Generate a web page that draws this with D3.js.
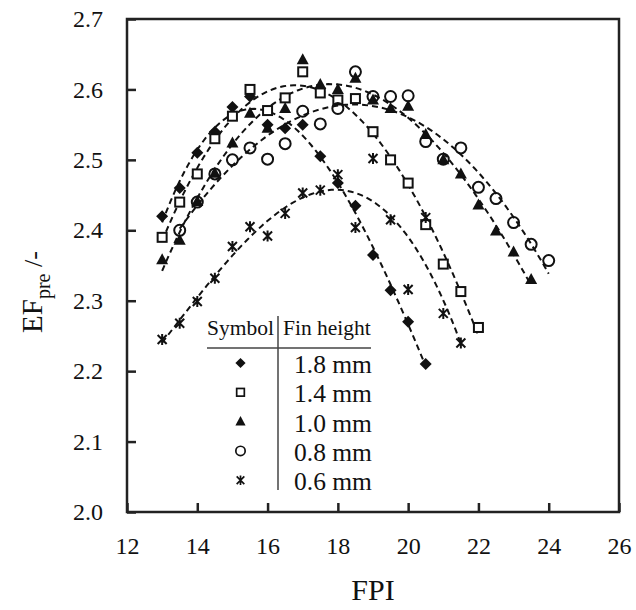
<!DOCTYPE html>
<html>
<head>
<meta charset="utf-8">
<script src="https://cdn.jsdelivr.net/npm/d3@7"></script>
<style>
  body { margin: 0; background: #fff; }
  text { font-family: "Liberation Serif", "Times New Roman", serif; fill: #111; }
</style>
</head>
<body>
<div id="chart"></div>
<script>
// data: FPI (x) and EF_pre (y) for each fin height
var fpi18 = [13, 13.5, 14, 14.5, 15, 15.5, 16, 16.5, 17, 17.5, 18, 18.5, 19, 19.5, 20, 20.5];
var ef18  = [2.42, 2.46, 2.51, 2.54, 2.575, 2.59, 2.55, 2.545, 2.55, 2.505, 2.467, 2.435, 2.365, 2.315, 2.27, 2.21];

var fpi14 = [13, 13.5, 14, 14.5, 15, 15.5, 16, 16.5, 17, 17.5, 18, 18.5, 19, 19.5, 20, 20.5, 21, 21.5, 22];
var ef14  = [2.39, 2.44, 2.48, 2.53, 2.562, 2.6, 2.57, 2.588, 2.625, 2.595, 2.585, 2.587, 2.54, 2.5, 2.467, 2.408, 2.352, 2.313, 2.262];

var fpi10 = [13, 13.5, 14, 14.5, 15, 15.5, 16, 16.5, 17, 17.5, 18, 18.5, 19, 19.5, 20, 20.5, 21, 21.5, 22, 22.5, 23, 23.5];
var ef10  = [2.358, 2.386, 2.441, 2.481, 2.524, 2.566, 2.545, 2.573, 2.642, 2.607, 2.6, 2.616, 2.585, 2.573, 2.576, 2.536, 2.5, 2.48, 2.436, 2.399, 2.369, 2.33];

var fpi08 = [13.5, 14, 14.5, 15, 15.5, 16, 16.5, 17, 17.5, 18, 18.5, 19, 19.5, 20, 20.5, 21, 21.5, 22, 22.5, 23, 23.5, 24];
var ef08  = [2.4, 2.44, 2.48, 2.5, 2.517, 2.501, 2.523, 2.569, 2.551, 2.573, 2.625, 2.59, 2.59, 2.591, 2.526, 2.501, 2.517, 2.461, 2.445, 2.411, 2.38, 2.357];

var fpi06 = [13, 13.5, 14, 14.5, 15, 15.5, 16, 16.5, 17, 17.5, 18, 18.5, 19, 19.5, 20, 20.5, 21, 21.5];
var ef06  = [2.245, 2.268, 2.299, 2.332, 2.377, 2.405, 2.392, 2.424, 2.453, 2.457, 2.479, 2.404, 2.502, 2.415, 2.316, 2.418, 2.282, 2.24];

var finLabels = ["1.8 mm", "1.4 mm", "1.0 mm", "0.8 mm", "0.6 mm"];
var markerTypes = ["diamond", "square", "triangle", "circle", "star"];
var xTicks = [12, 14, 16, 18, 20, 22, 24, 26];
var yTicks = [2.0, 2.1, 2.2, 2.3, 2.4, 2.5, 2.6, 2.7];

var seriesList = [
    { x: fpi18, y: ef18 },
    { x: fpi14, y: ef14 },
    { x: fpi10, y: ef10 },
    { x: fpi08, y: ef08 },
    { x: fpi06, y: ef06 }
];

// svg container
var svgWidth = 636, svgHeight = 610;
var margin = { top: 19, right: 17, bottom: 98, left: 127 };
var chartWidth = svgWidth - margin.left - margin.right;
var chartHeight = svgHeight - margin.top - margin.bottom;

var svg = d3.select("#chart").append("svg")
    .attr("width", svgWidth)
    .attr("height", svgHeight);

var chartGroup = svg.append("g")
    .attr("transform", `translate(${margin.left}, ${margin.top})`);

var xScale = d3.scaleLinear().domain([12, 26]).range([0, chartWidth]);
var yScale = d3.scaleLinear().domain([2.0, 2.7]).range([chartHeight, 0]);

// axes with inward ticks
var xAxis = d3.axisBottom(xScale).tickValues(xTicks).tickFormat(d3.format("d"))
    .tickSizeInner(-9).tickSizeOuter(0).tickPadding(25);
var yAxis = d3.axisLeft(yScale).tickValues(yTicks).tickFormat(d3.format(".1f"))
    .tickSizeInner(-9).tickSizeOuter(0).tickPadding(24);

var gx = chartGroup.append("g")
    .attr("transform", `translate(0, ${chartHeight})`)
    .call(xAxis);
var gy = chartGroup.append("g").call(yAxis);

[gx, gy].forEach(function (g) {
    g.attr("font-family", null);
    g.select(".domain").remove();
    g.selectAll(".tick line").attr("stroke", "#222").attr("stroke-width", 2.5);
    g.selectAll(".tick text")
        .style("font-size", "24px")
        .attr("fill", "#111");
});

// frame
chartGroup.append("rect")
    .attr("width", chartWidth)
    .attr("height", chartHeight)
    .attr("fill", "none")
    .attr("stroke", "#222")
    .attr("stroke-width", 2.5);

// least squares cubic fit for the dashed trend curves
function polyFit(xs, ys, deg) {
    var n = deg + 1;
    var A = [], b = [];
    for (var i = 0; i < n; i++) {
        A.push(new Array(n).fill(0));
        b.push(0);
    }
    xs.forEach(function (x, k) {
        for (var i = 0; i < n; i++) {
            b[i] += ys[k] * Math.pow(x, i);
            for (var j = 0; j < n; j++) A[i][j] += Math.pow(x, i + j);
        }
    });
    for (var c = 0; c < n; c++) {
        var p = c;
        for (var r = c + 1; r < n; r++) if (Math.abs(A[r][c]) > Math.abs(A[p][c])) p = r;
        [A[c], A[p]] = [A[p], A[c]];
        [b[c], b[p]] = [b[p], b[c]];
        for (var r2 = c + 1; r2 < n; r2++) {
            var f = A[r2][c] / A[c][c];
            for (var j2 = c; j2 < n; j2++) A[r2][j2] -= f * A[c][j2];
            b[r2] -= f * b[c];
        }
    }
    var coef = new Array(n).fill(0);
    for (var i2 = n - 1; i2 >= 0; i2--) {
        var s = b[i2];
        for (var j3 = i2 + 1; j3 < n; j3++) s -= A[i2][j3] * coef[j3];
        coef[i2] = s / A[i2][i2];
    }
    return function (x) {
        return coef.reduce(function (acc, cf, i) { return acc + cf * Math.pow(x, i); }, 0);
    };
}

var line = d3.line()
    .x(d => xScale(d[0]))
    .y(d => yScale(d[1]));

seriesList.forEach(function (s) {
    var fit = polyFit(s.x, s.y, 3);
    var x0 = d3.min(s.x), x1 = d3.max(s.x);
    var pts = d3.range(0, 61).map(i => {
        var xv = x0 + (x1 - x0) * i / 60;
        return [xv, fit(xv)];
    });
    chartGroup.append("path")
        .datum(pts)
        .attr("d", line)
        .attr("fill", "none")
        .attr("stroke", "#111")
        .attr("stroke-width", 2)
        .attr("stroke-dasharray", "6,4");
});

// marker drawing
function drawMarker(g, type) {
    if (type === "diamond") {
        g.append("path").attr("d", "M0,-6L6,0L0,6L-6,0Z").attr("fill", "#111");
    } else if (type === "square") {
        g.append("rect").attr("x", -4.5).attr("y", -4.5).attr("width", 9).attr("height", 9)
            .attr("fill", "#fff").attr("stroke", "#111").attr("stroke-width", 2);
    } else if (type === "triangle") {
        g.append("path").attr("d", "M0,-6.5L6,4.5L-6,4.5Z").attr("fill", "#111");
    } else if (type === "circle") {
        g.append("circle").attr("r", 5.5)
            .attr("fill", "none").attr("stroke", "#111").attr("stroke-width", 2);
    } else {
        g.append("path").attr("d", "M-4.5,-4.5L4.5,4.5M-4.5,4.5L4.5,-4.5M0,-5.5L0,5.5")
            .attr("fill", "none").attr("stroke", "#111").attr("stroke-width", 2);
    }
}

seriesList.forEach(function (s, si) {
    var pts = s.x.map((xv, i) => [xv, s.y[i]]);
    chartGroup.append("g").selectAll("g")
        .data(pts)
        .enter()
        .append("g")
        .attr("transform", d => `translate(${xScale(d[0])}, ${yScale(d[1])})`)
        .each(function () { drawMarker(d3.select(this), markerTypes[si]); });
});

// legend table
var legend = svg.append("g");
legend.append("text").attr("x", 207).attr("y", 335)
    .style("font-size", "21.5px").text("Symbol");
legend.append("text").attr("x", 283).attr("y", 335)
    .style("font-size", "21.5px").text("Fin height");
legend.append("line").attr("x1", 207).attr("x2", 371).attr("y1", 348).attr("y2", 348)
    .attr("stroke", "#444").attr("stroke-width", 1.5);
legend.append("line").attr("x1", 278).attr("x2", 278).attr("y1", 316).attr("y2", 490)
    .attr("stroke", "#444").attr("stroke-width", 1.5);

finLabels.forEach(function (lab, i) {
    var cy = 363 + i * 29.3;
    var mg = legend.append("g").attr("transform", `translate(240.5, ${cy}) scale(0.85)`);
    drawMarker(mg, markerTypes[i]);
    legend.append("text").attr("x", 294).attr("y", cy + 10)
        .style("font-size", "25.5px").text(lab);
});

// axis titles
var yTitle = svg.append("text")
    .attr("transform", "translate(42, 292) rotate(-90)")
    .attr("text-anchor", "middle")
    .style("font-size", "29px");
yTitle.append("tspan").text("EF");
yTitle.append("tspan").attr("dy", 8).style("font-size", "20px").text("pre");
yTitle.append("tspan").attr("dy", -8).style("font-size", "26px").text(" /-");

svg.append("text")
    .attr("x", margin.left + chartWidth / 2)
    .attr("y", 600)
    .attr("text-anchor", "middle")
    .style("font-size", "30px")
    .text("FPI");
</script>
</body>
</html>
